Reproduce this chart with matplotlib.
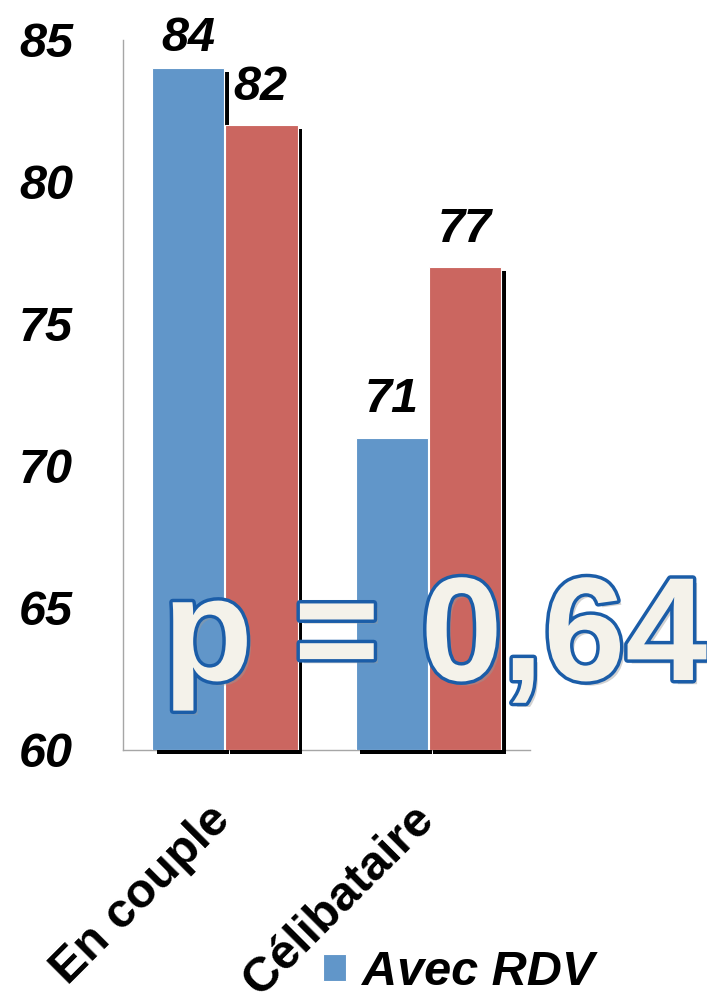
import matplotlib
matplotlib.use("Agg")
import matplotlib.pyplot as plt
import matplotlib.patheffects as pe
from matplotlib.transforms import ScaledTranslation
import numpy as np

categories = ["En couple", "Célibataire"]
series_names = ["Avec RDV", "Sans RDV"]
avec_rdv = [84, 71]
sans_rdv = [82, 77]
yticks = [60, 65, 70, 75, 80, 85]
p_text = "p = 0,64"

blue = "#6196C9"
red = "#CB6660"
font = "Liberation Sans"

fig = plt.figure(figsize=(7.07, 9.92), dpi=100)
ax = fig.add_axes([0.174, 0.2440, 0.5757, 0.7157])

ymin = yticks[0]
x = np.arange(len(categories))
w = 0.355
off = 0.18
shadow_tr = ax.transData + ScaledTranslation(4.5 / 100, -4 / 100, fig.dpi_scale_trans)
for xs, vals in ((x - off, avec_rdv), (x + off, sans_rdv)):
    ax.bar(xs, np.array(vals) - ymin, w, bottom=ymin, color="black", linewidth=0,
           transform=shadow_tr, clip_on=False, zorder=2)

b1 = ax.bar(x - off, np.array(avec_rdv) - ymin, w, bottom=ymin, color=blue,
            edgecolor="white", linewidth=0.8, zorder=3)
b2 = ax.bar(x + off, np.array(sans_rdv) - ymin, w, bottom=ymin, color=red,
            edgecolor="white", linewidth=0.8, zorder=3)

ax.set_ylim(60, 85)
ax.set_xlim(-0.5, 1.5)
ax.set_yticks(yticks)
ax.set_yticklabels([str(t) for t in yticks], fontsize=35, fontweight="bold",
                   fontstyle="italic", family=font)
ax.tick_params(axis="y", length=0, pad=36)
ax.set_xticks(x)
ax.set_xticklabels(categories, fontsize=35, fontweight="bold", family=font,
                   rotation=45, ha="right", va="top", rotation_mode="anchor")
ax.tick_params(axis="x", length=0, pad=38)
for lab in ax.get_xticklabels():
    lab.set_transform(lab.get_transform() + ScaledTranslation(-17 / 100, 6 / 100, fig.dpi_scale_trans))

for sp in ["top", "right"]:
    ax.spines[sp].set_visible(False)
for sp in ["left", "bottom"]:
    ax.spines[sp].set_color("#A6A6A6")
    ax.spines[sp].set_linewidth(1.0)
    ax.spines[sp].set_zorder(1)

lab1 = ax.bar_label(b1, labels=[str(v) for v in avec_rdv], padding=11,
                    fontsize=35, fontweight="bold", fontstyle="italic", family=font)
lab2 = ax.bar_label(b2, labels=[str(v) for v in sans_rdv], padding=11,
                    fontsize=35, fontweight="bold", fontstyle="italic", family=font)
lab1[0].xyann = (0, 5)
lab2[0].xyann = (-1, 11)

leg = fig.legend([b1, b2], series_names, loc="upper left",
                 bbox_to_anchor=(0.4570, 0.0423), frameon=False,
                 handlelength=0.47, handleheight=0.47, handletextpad=0.33,
                 borderpad=0, borderaxespad=0,
                 prop={"family": font, "size": 35, "weight": "bold", "style": "italic"})

fig.text(0.2305, 0.3145, p_text, fontsize=106, fontweight="bold", family=font,
         color="#F4F2EA", va="baseline", ha="left", zorder=10,
         path_effects=[pe.SimplePatchShadow(offset=(3, -3), shadow_rgbFace="#999999", alpha=0.45),
                       pe.Stroke(linewidth=5, foreground="#1B5DA8"),
                       pe.Normal()])

fig.savefig("out.png", dpi=100)
